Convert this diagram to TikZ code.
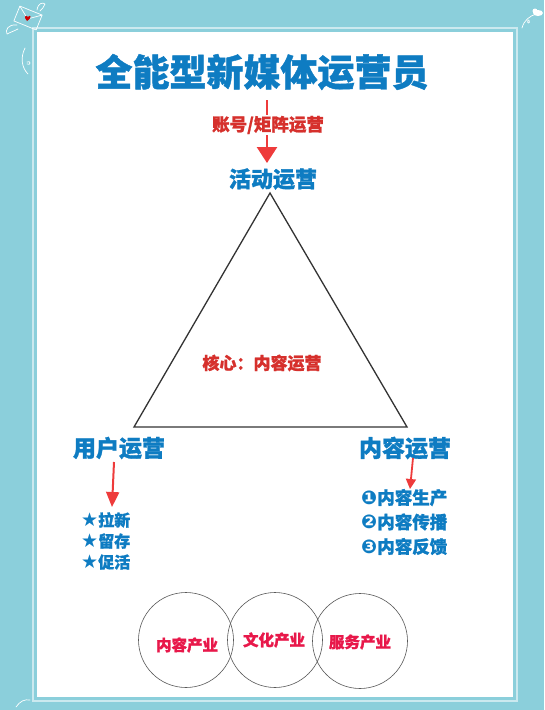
\documentclass[tikz,border=0pt]{standalone}
\usepackage{fontspec}
\newfontfamily\cjk{Noto Sans CJK SC}[BoldFeatures={FakeBold=1.2}]
\newfontfamily\dejavu{DejaVu Sans}
\usetikzlibrary{arrows.meta}
\definecolor{bg}{HTML}{8BCFDB}
\definecolor{tblue}{HTML}{0E7CC2}
\definecolor{tred}{HTML}{D6302C}
\definecolor{pred}{HTML}{E8184A}
\definecolor{arr}{HTML}{EE3B3B}
\tikzset{
  fs/.style={font=\cjk\bfseries\fontsize{#1}{#1}\selectfont},
  bluetxt/.style={text=tblue, inner sep=0pt},
  redtxt/.style={text=tred, inner sep=0pt},
  ring/.style={circle, draw=black!65, line width=0.6pt, minimum size=95pt, inner sep=0pt},
  redarrow/.style={draw=arr, line width=2.6pt, -{Triangle[length=16pt,width=20pt]}},
  doodle/.style={draw=white, line width=0.7pt, line cap=round, line join=round},
}
\newcommand{\bstar}{{\dejavu\fontsize{19}{19}\selectfont ★}}
\newcommand{\bnum}[1]{{\dejavu\fontsize{19}{19}\selectfont #1}}
\begin{document}
\begin{tikzpicture}[x=1pt,y=-1pt]
\fill[bg] (0,0) rectangle (544,710);
\useasboundingbox (0,0) rectangle (544,710);
\draw[white!55!bg, line width=1.4pt] (33,28) rectangle (517,701);
\fill[white] (37,32) rectangle (513,697);

% doodles
\begin{scope}[rotate around={-22:(28,18)}]
  \draw[doodle] (16,10) rectangle (40,26);
  \draw[doodle] (16,10) -- (28,19) -- (40,10);
\end{scope}
\fill[red!80!black] (27,21) .. controls (23,17) and (26,14) .. (28,17) .. controls (30,14) and (33,17) .. (27,21);
\draw[doodle] (17,25) .. controls (8,24) and (5,30) .. (7,34) .. controls (11,32) and (14,31) .. (18,29);
\draw[doodle] (37,10) .. controls (38,3) and (43,2) .. (45,4) .. controls (44,7) and (42,9) .. (40,11);
\draw[doodle] (25,48) .. controls (20,58) and (22,68) .. (28,74);
\draw[doodle] (27,62) .. controls (31,60) and (31,66) .. (27,64);
\draw[doodle] (522,28) .. controls (524,20) and (530,16) .. (536,14);
\draw[doodle] (528,20) .. controls (526,24) and (531,24) .. (529,20);
\fill[white] (538,13) ellipse (5pt and 3pt);
\fill[white] (535,11) circle (2.5pt);
\draw[doodle] (16,707) .. controls (20,701) and (25,699) .. (30,700);

% title
\node[fs=37, bluetxt] (title) at (262,72) {全能型新媒体运营员};

% triangle labels
\node[fs=22, bluetxt] (act) at (273,179) {活动运营};
\node[fs=23, bluetxt] (user) at (119,448) {用户运营};
\node[fs=23, bluetxt] (cont) at (405,448) {内容运营};

% triangle
\coordinate (vt) at (270,193);
\coordinate (vl) at (134,427);
\coordinate (vr) at (407,427);
\draw[black!80, line width=1.3pt, line join=miter] (vt) -- (vl) -- (vr) -- cycle;
\node[fs=17, redtxt] (core) at (262,363) {核心：内容运营};

% top arrow
\coordinate (a0) at (267,100);
\coordinate (a1) at (267,163);
\draw[arr, line width=1.6pt] (a0) -- (267,136);
\draw[redarrow] (267,134) -- (a1);
\node[fs=17.5, redtxt, fill=white, inner sep=1pt] (acct) at (268,125) {账号/矩阵运营};

% side arrows
\coordinate (l0) at (114,462);
\coordinate (l1) at (112,507);
\draw[redarrow, -{Triangle[length=15pt,width=13pt]}, line width=2pt] (l0) -- (l1);
\coordinate (r0) at (413,458);
\coordinate (r1) at (410,489);
\draw[redarrow, -{Triangle[length=10pt,width=10pt]}, line width=1.8pt] (r0) -- (r1);

% lists
\node[font=\cjk\bfseries\fontsize{16}{21}\selectfont, bluetxt, anchor=west, align=left] (stars) at (81,541)
  {\bstar 拉新\\\bstar 留存\\\bstar 促活};
\node[font=\cjk\bfseries\fontsize{17.5}{24.5}\selectfont, bluetxt, anchor=west, align=left] (steps) at (361,522)
  {\bnum{❶}内容生产\\\bnum{❷}内容传播\\\bnum{❸}内容反馈};

% circles
\node[ring] (c1) at (186,640) {};
\node[ring] (c2) at (275,640) {};
\node[ring] (c3) at (360,641) {};
\node[fs=15.5, text=pred, inner sep=0pt] (t1) at (187,645) {内容产业};
\node[fs=15.5, text=pred, inner sep=0pt] (t2) at (274,640) {文化产业};
\node[fs=15.5, text=pred, inner sep=0pt] (t3) at (360,642) {服务产业};
\end{tikzpicture}
\end{document}
